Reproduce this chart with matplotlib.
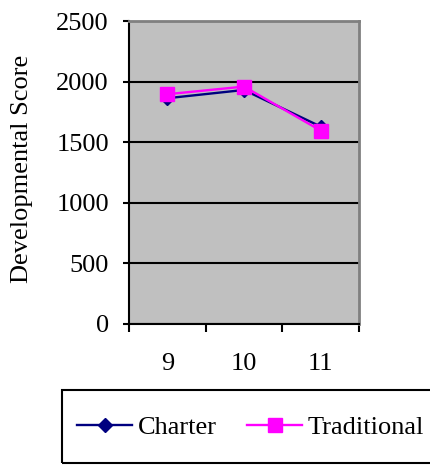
import numpy as np
import matplotlib
matplotlib.use("Agg")
import matplotlib.pyplot as plt
from matplotlib.patches import Rectangle

grades = ['9', '10', '11']
charter = [1863, 1931, 1629]
traditional = [1896, 1959, 1596]
yticks = [0, 500, 1000, 1500, 2000, 2500]

plt.rcParams['font.family'] = ['Liberation Serif', 'DejaVu Serif']
fs = 19

fig = plt.figure(figsize=(4.3, 4.65), dpi=100)
ax = fig.add_axes([129/430, 1 - 324/465, 230/430, 303/465])
ax.set_facecolor('#C0C0C0')

x = np.arange(len(grades))
ax.plot(x, charter, color='#000080', lw=1.7, marker='D', ms=7, label='Charter', zorder=3)
ax.plot(x, traditional, color='#FF00FF', lw=1.7, marker='s', ms=10.5, label='Traditional', zorder=4)

ax.set_ylim(0, 2500)
ax.set_yticks(yticks)
ax.set_yticklabels([str(v) for v in yticks], fontsize=fs)
ax.yaxis.grid(True, color='black', lw=1.5)
ax.set_axisbelow(True)

ax.set_xlim(-0.5, 2.5)
ax.set_xticks([-0.5, 0.5, 1.5, 2.5])
ax.set_xticklabels([])
ax.set_xticks(x, minor=True)
ax.set_xticklabels(grades, minor=True, fontsize=fs)
ax.tick_params(axis='x', which='major', direction='out', length=6, width=1.5, color='black')
ax.tick_params(axis='x', which='minor', length=0, pad=21)
ax.tick_params(axis='y', direction='out', length=4.5, width=1.5, pad=10)

for s in ['left', 'bottom']:
    ax.spines[s].set_color('black')
    ax.spines[s].set_linewidth(1.5)
for s in ['top', 'right']:
    ax.spines[s].set_color('#808080')
    ax.spines[s].set_linewidth(2)

fig.text(22/430, 1 - 169/465, 'Developmental Score', rotation=90, fontsize=fs,
         ha='center', va='center')

# legend box, runs off the right edge
fig.add_artist(Rectangle((62/430, 1 - 463/465), 400/430, 73/465, transform=fig.transFigure,
                         fill=False, edgecolor='black', lw=1.5, clip_on=False))
h, l = ax.get_legend_handles_labels()
fig.legend(h, l, loc='center left', bbox_to_anchor=(77/430, 1 - 427/465), ncol=2,
           frameon=False, prop={'family': ['Liberation Serif'], 'size': fs},
           handlelength=2.1, handletextpad=0.2,
           columnspacing=1.15, borderaxespad=0, borderpad=0)

fig.savefig('out.png', dpi=100)
